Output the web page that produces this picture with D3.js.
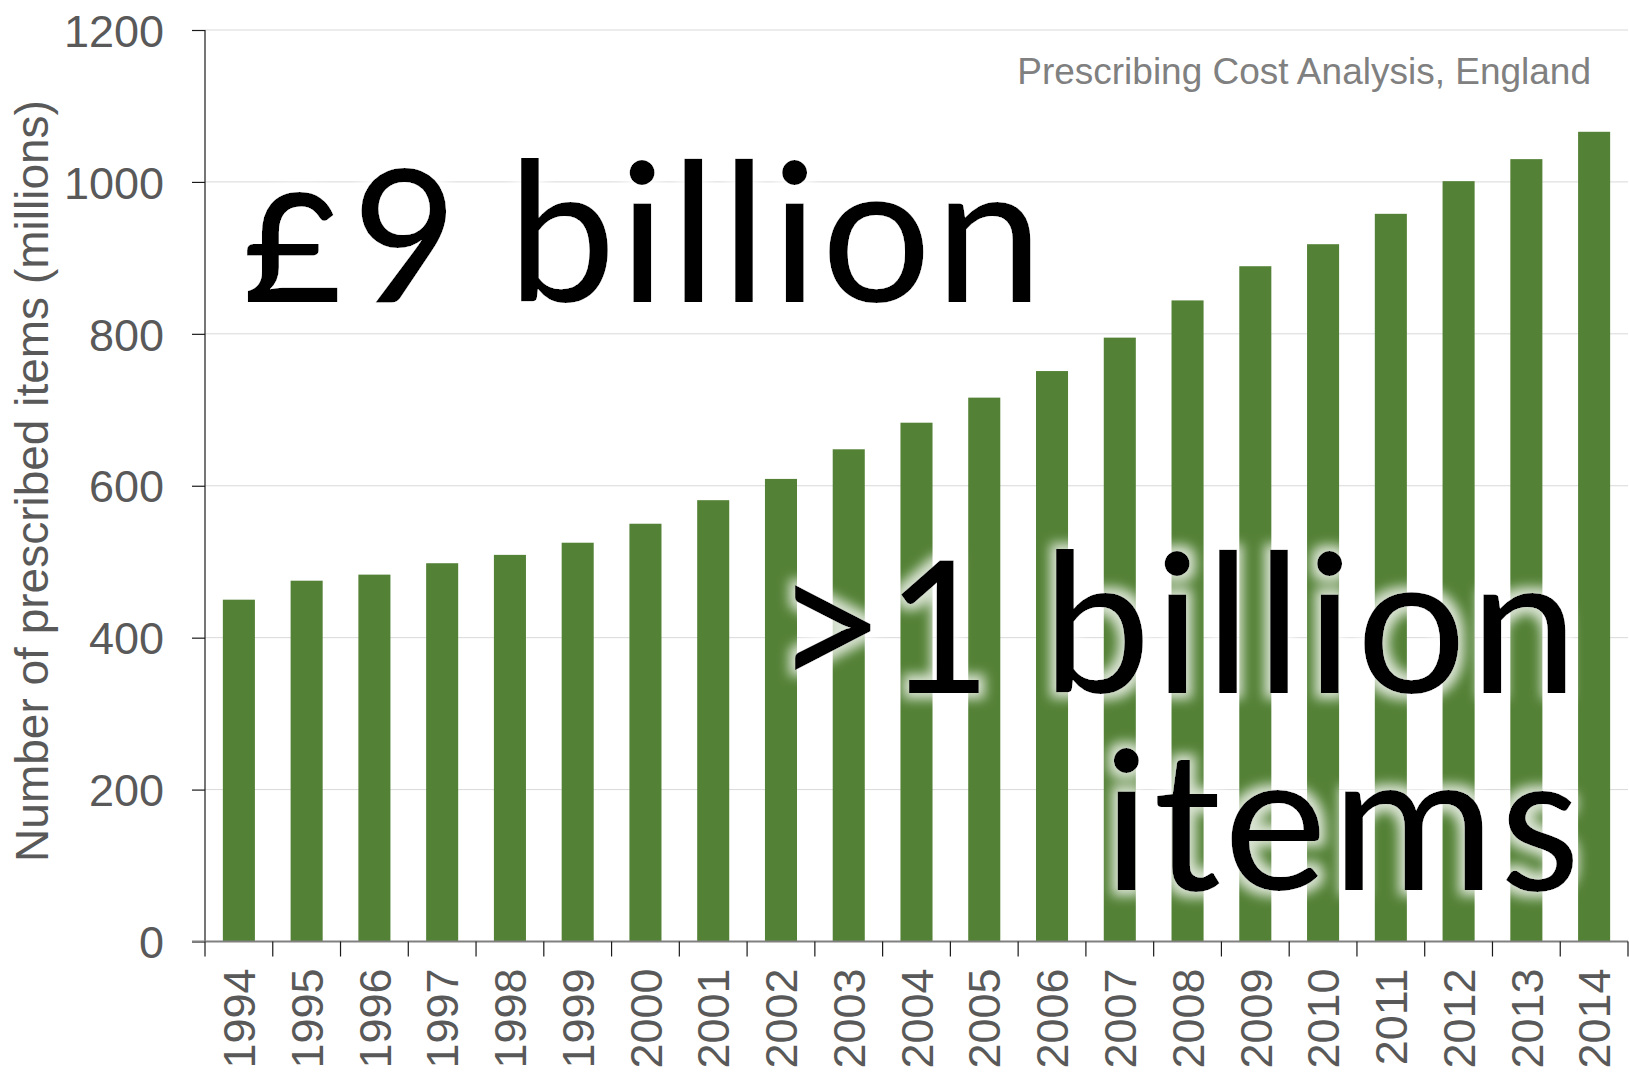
<!DOCTYPE html>
<html>
<head>
<meta charset="utf-8">
<script src="https://cdn.jsdelivr.net/npm/d3@7"></script>
<style>
  html, body { margin: 0; padding: 0; background: #fff; }
  svg { display: block; }
</style>
</head>
<body>
<script>
// Prescribed items per year, England (millions)
const years = ["1994","1995","1996","1997","1998","1999","2000","2001","2002","2003","2004",
               "2005","2006","2007","2008","2009","2010","2011","2012","2013","2014"];
const items = [450, 475, 483, 498, 509, 525, 550, 581, 609, 648, 683,
               716, 751, 795, 844, 889, 918, 958, 1001, 1030, 1066];
const yTicks = [0, 200, 400, 600, 800, 1000, 1200];

const sourceNote = "Prescribing Cost Analysis, England";
const yTitle = "Number of prescribed items (millions)";
const costHeadline = "£9 billion";
const itemsHeadline = [">1 billion", "items"];

const W = 1629, H = 1073;
const plot = { left: 205, right: 1628, top: 30, bottom: 941.5 };

const svg = d3.select("body").append("svg")
  .attr("width", W).attr("height", H)
  .attr("viewBox", `0 0 ${W} ${H}`);

// soft white halo behind the headline text
const defs = svg.append("defs");
const glow = defs.append("filter").attr("id", "halo")
  .attr("x", "-10%").attr("y", "-20%").attr("width", "120%").attr("height", "140%");
glow.append("feMorphology").attr("in", "SourceAlpha").attr("operator", "dilate")
  .attr("radius", 6).attr("result", "grown");
glow.append("feGaussianBlur").attr("in", "grown").attr("stdDeviation", 6).attr("result", "soft");
glow.append("feFlood").attr("flood-color", "#ffffff").attr("flood-opacity", 0.78).attr("result", "white");
glow.append("feComposite").attr("in", "white").attr("in2", "soft").attr("operator", "in").attr("result", "haloFill");
const merge = glow.append("feMerge");
merge.append("feMergeNode").attr("in", "haloFill");
merge.append("feMergeNode").attr("in", "SourceGraphic");

const x = d3.scaleBand()
  .domain(years)
  .range([plot.left, plot.right])
  .paddingInner(0.527)
  .paddingOuter(0.2635);

const y = d3.scaleLinear()
  .domain([0, 1200])
  .range([plot.bottom, plot.top]);

const axisFont = "Liberation Sans, Arial, sans-serif";

// horizontal gridlines
svg.append("g")
  .selectAll("line")
  .data(yTicks.filter(d => d > 0))
  .join("line")
  .attr("x1", plot.left).attr("x2", plot.right)
  .attr("y1", d => y(d)).attr("y2", d => y(d))
  .attr("stroke", "#d9d9d9").attr("stroke-width", 1);

// bars
svg.append("g")
  .selectAll("rect")
  .data(years.map((yr, i) => ({ yr, v: items[i] })))
  .join("rect")
  .attr("x", d => x(d.yr))
  .attr("width", x.bandwidth())
  .attr("y", d => y(d.v))
  .attr("height", d => y(0) - y(d.v))
  .attr("fill", "#538135");

// y axis
const yAxis = svg.append("g")
  .attr("transform", `translate(${plot.left},0)`)
  .call(d3.axisLeft(y).tickValues(yTicks).tickSize(13).tickPadding(28).tickFormat(d3.format("d")));
yAxis.select(".domain").attr("stroke", "#1a1a1a").attr("stroke-width", 1.2)
  .attr("d", `M0,${plot.top}V${plot.bottom}`);
yAxis.selectAll(".tick line").attr("stroke", "#1a1a1a").attr("stroke-width", 1.2);
yAxis.selectAll(".tick text")
  .attr("fill", "#595959")
  .attr("font-family", axisFont)
  .attr("font-size", 45)
  .attr("dy", "0.36em");

// x axis: ticks sit on the category boundaries
const boundaries = years.map(yr => x(yr) - x.step() * x.paddingOuter())
  .concat([plot.right]);
const xAxis = svg.append("g");
xAxis.append("line")
  .attr("x1", plot.left - 13).attr("x2", plot.right)
  .attr("y1", plot.bottom).attr("y2", plot.bottom)
  .attr("stroke", "#808080").attr("stroke-width", 2);
xAxis.selectAll("line.tk")
  .data(boundaries)
  .join("line").attr("class", "tk")
  .attr("x1", d => d).attr("x2", d => d)
  .attr("y1", plot.bottom).attr("y2", plot.bottom + 15)
  .attr("stroke", "#1a1a1a").attr("stroke-width", 1.2);
xAxis.selectAll("text")
  .data(years)
  .join("text")
  .attr("transform", d => `translate(${x(d) + x.bandwidth() / 2},${plot.bottom + 27}) rotate(-90)`)
  .attr("text-anchor", "end")
  .attr("dy", "0.36em")
  .attr("fill", "#595959")
  .attr("font-family", axisFont)
  .attr("font-size", 45)
  .text(d => d);

// y axis title
svg.append("text")
  .attr("transform", `translate(48,481) rotate(-90)`)
  .attr("text-anchor", "middle")
  .attr("fill", "#595959")
  .attr("font-family", axisFont)
  .attr("font-size", 46)
  .text(yTitle);

// source note
svg.append("text")
  .attr("x", 1591).attr("y", 84)
  .attr("text-anchor", "end")
  .attr("fill", "#808080")
  .attr("font-family", axisFont)
  .attr("font-size", 37)
  .text(sourceNote);

// headlines
const bigFont = "Calibri, Carlito, Lato, 'Open Sans', sans-serif";
const bigSize = 207;
const spacing = 3.3;

svg.append("text")
  .attr("x", 240).attr("y", 302)
  .attr("fill", "#000")
  .attr("font-family", bigFont)
  .attr("font-size", bigSize)
  .attr("letter-spacing", spacing)
  .attr("filter", "url(#halo)")
  .text(costHeadline);

svg.append("text")
  .attr("x", 1578 + spacing).attr("y", 693)
  .attr("text-anchor", "end")
  .attr("fill", "#000")
  .attr("font-family", bigFont)
  .attr("font-size", bigSize)
  .attr("letter-spacing", spacing)
  .attr("filter", "url(#halo)")
  .text(itemsHeadline[0]);

svg.append("text")
  .attr("x", 1580 + spacing).attr("y", 890)
  .attr("text-anchor", "end")
  .attr("fill", "#000")
  .attr("font-family", bigFont)
  .attr("font-size", bigSize)
  .attr("letter-spacing", spacing)
  .attr("filter", "url(#halo)")
  .text(itemsHeadline[1]);
</script>
</body>
</html>
